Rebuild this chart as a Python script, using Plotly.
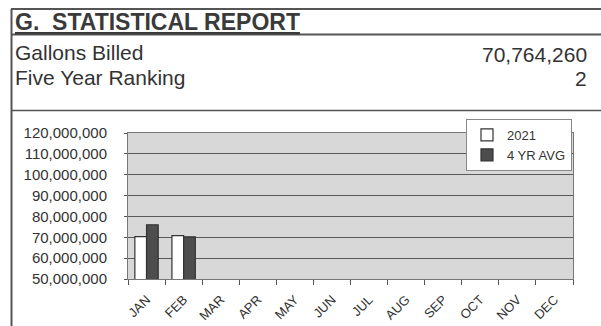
import plotly.graph_objects as go

months = ["JAN", "FEB", "MAR", "APR", "MAY", "JUN", "JUL", "AUG", "SEP", "OCT", "NOV", "DEC"]
gallons_2021 = [70300000, 70764260, None, None, None, None, None, None, None, None, None, None]
avg_4yr = [76000000, 70200000, None, None, None, None, None, None, None, None, None, None]
y_ticks = [50000000, 60000000, 70000000, 80000000, 90000000, 100000000, 110000000, 120000000]

report_title = "G.  STATISTICAL REPORT"
row_labels = ["Gallons Billed", "Five Year Ranking"]
row_values = ["70,764,260", "2"]

W, H = 601, 326
L, R, T, B = 128, 573, 133, 279  # plot area in pixels

def xp(px):
    return (px - L) / (R - L)

def yp(py):
    return (B - py) / (B - T)

FONT = "Arial, Liberation Sans, sans-serif"
TXT = "#333333"
LINE = "#555555"

fig = go.Figure()
fig.add_trace(go.Bar(
    x=months, y=gallons_2021, name="2021",
    marker=dict(color="white", line=dict(color="#333333", width=1.2)),
))
fig.add_trace(go.Bar(
    x=months, y=avg_4yr, name="4 YR AVG",
    marker=dict(color="#4d4d4d", line=dict(color="#333333", width=1.2)),
))

shapes = []
def hline(py, x0=11, x1=601, w=2):
    shapes.append(dict(type="line", xref="paper", yref="paper",
                       x0=xp(x0), x1=xp(x1), y0=yp(py), y1=yp(py),
                       line=dict(color=LINE, width=w)))
hline(9)
hline(34.5)
hline(110.5, w=1.5)
shapes.append(dict(type="line", xref="paper", yref="paper",
                   x0=xp(11.5), x1=xp(11.5), y0=yp(9), y1=yp(326),
                   line=dict(color=LINE, width=2)))

annotations = []
annotations.append(dict(text="<b><u>" + report_title + "</u></b>", xref="paper", yref="paper",
                        x=xp(13), y=yp(22), xanchor="left", yanchor="middle", showarrow=False,
                        font=dict(family=FONT, size=23, color="#3a3a3a")))
label_y = [52, 77]
value_y = [54, 78]
for lab, val, ly, vy in zip(row_labels, row_values, label_y, value_y):
    annotations.append(dict(text=lab, xref="paper", yref="paper", x=xp(13), y=yp(ly),
                            xanchor="left", yanchor="middle", showarrow=False,
                            font=dict(family=FONT, size=21, color=TXT)))
    annotations.append(dict(text=val, xref="paper", yref="paper", x=xp(589), y=yp(vy),
                            xanchor="right", yanchor="middle", showarrow=False,
                            font=dict(family=FONT, size=21, color=TXT)))

fig.update_layout(
    width=W, height=H, autosize=False,
    margin=dict(l=L, r=W - R, t=T, b=H - B, pad=0),
    paper_bgcolor="white", plot_bgcolor="#d8d8d8",
    barmode="group", bargap=0.37, bargroupgap=0,
    showlegend=True,
    legend=dict(x=xp(466), y=yp(119), xanchor="left", yanchor="top",
                bgcolor="white", bordercolor="#888888", borderwidth=1,
                font=dict(family=FONT, size=13, color=TXT),
                itemwidth=30, tracegroupgap=0),
    shapes=shapes, annotations=annotations,
    font=dict(family=FONT, color=TXT),
)
fig.update_xaxes(
    type="category", tickangle=-45, ticks="outside", tickson="boundaries",
    ticklen=5, tickcolor=LINE, showline=True, linecolor="#777777", mirror=True,
    tickfont=dict(family=FONT, size=13, color=TXT), showgrid=False,
    ticklabelstandoff=7, automargin=False,
)
fig.update_yaxes(
    range=[50000000, 120000000], tickvals=y_ticks, tickformat=",d",
    ticks="outside", ticklen=3, tickcolor=LINE,
    showline=True, linecolor="#777777", mirror=True,
    gridcolor="#5a5a5a", gridwidth=1,
    tickfont=dict(family=FONT, size=15, color=TXT), zeroline=False,
    ticklabelstandoff=14, automargin=False,
)

fig.write_html("out.html")
